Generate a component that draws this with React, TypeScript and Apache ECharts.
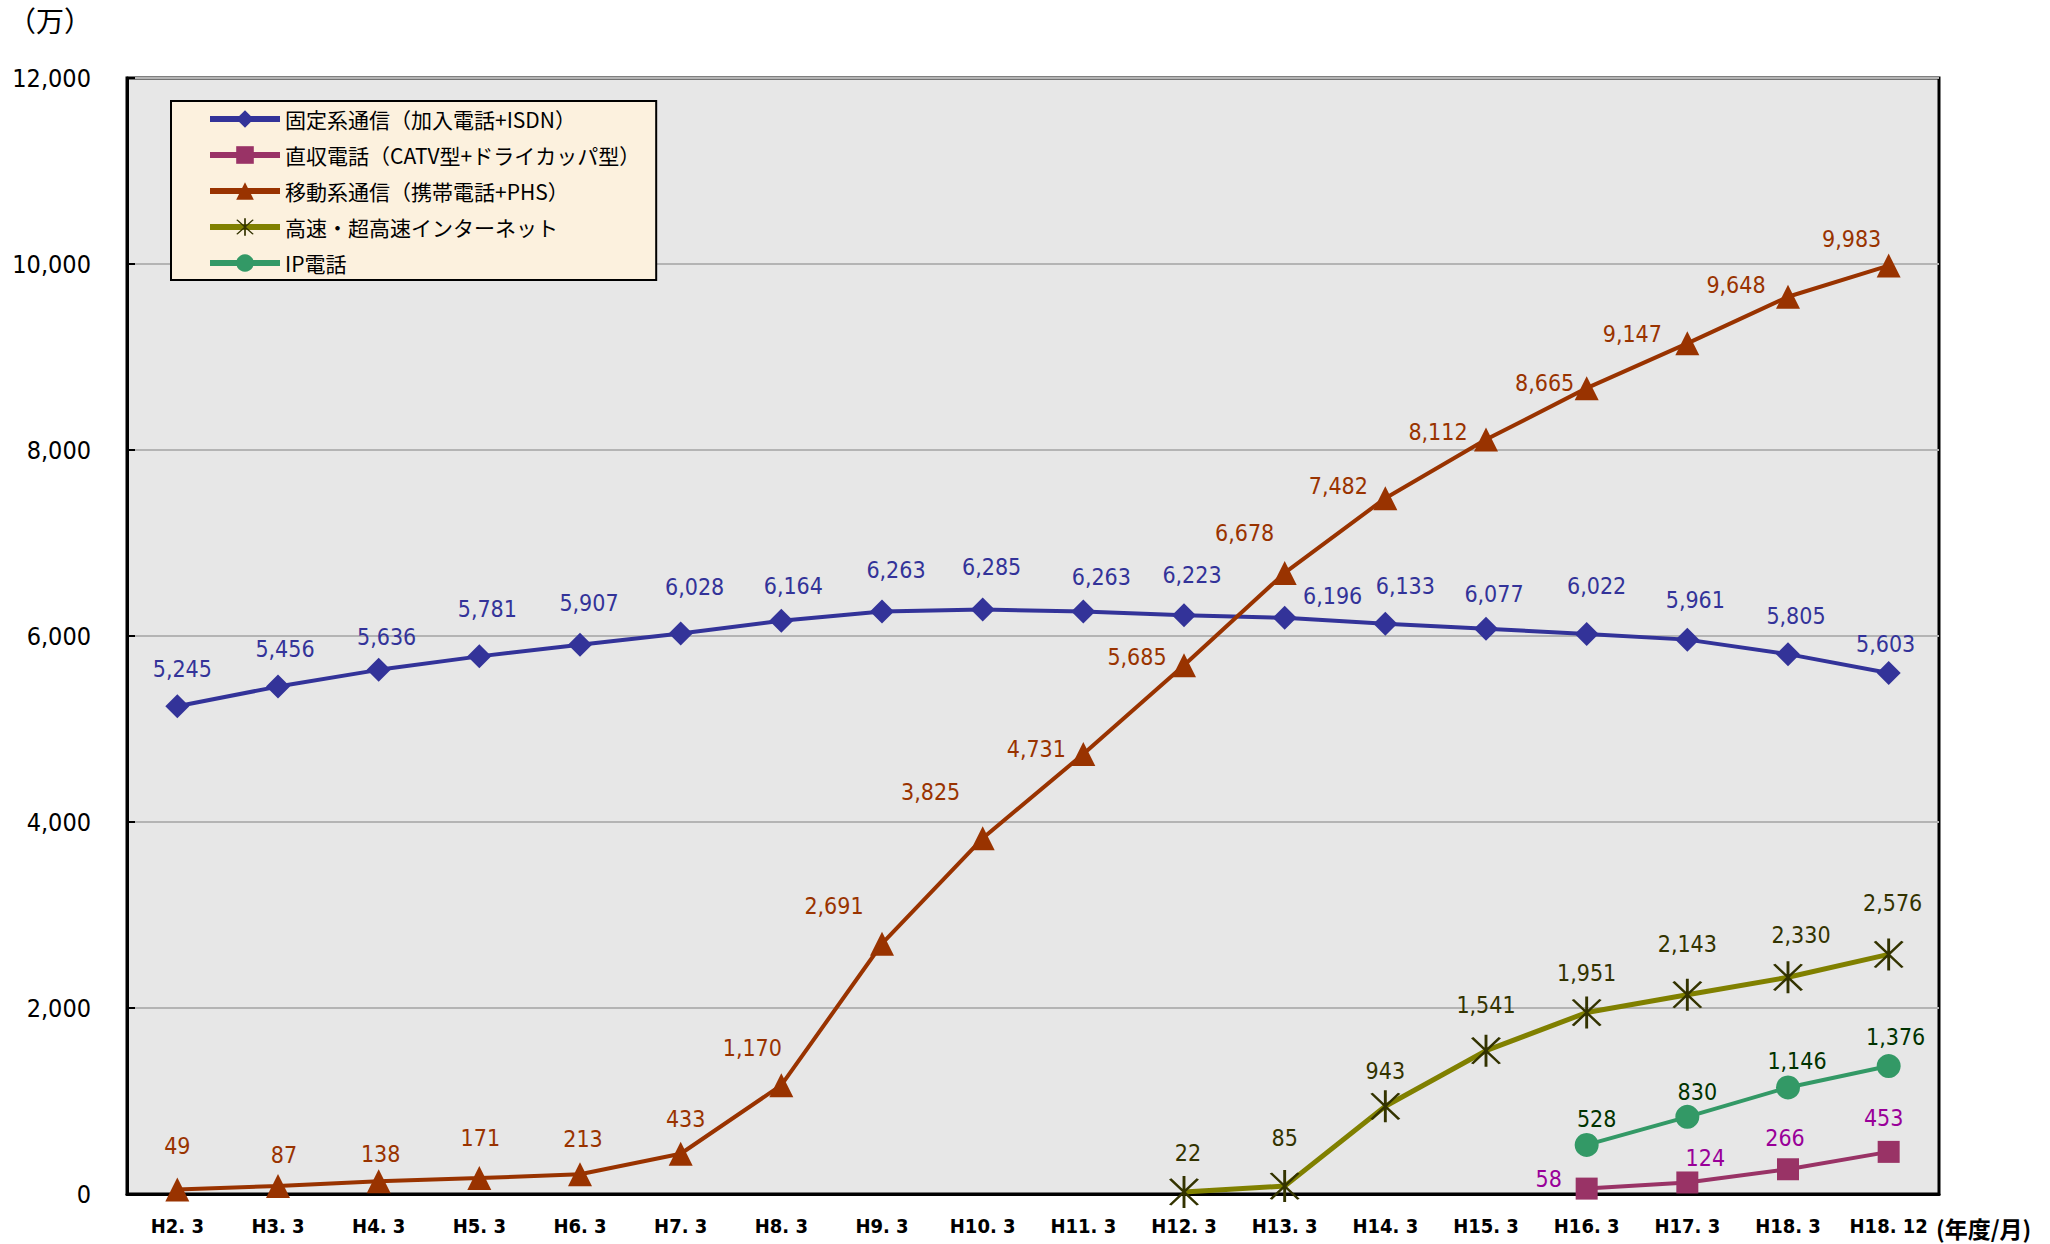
import React, { useEffect, useRef } from "react";
import * as echarts from "echarts";

const categories = ["H2. 3", "H3. 3", "H4. 3", "H5. 3", "H6. 3", "H7. 3", "H8. 3", "H9. 3", "H10. 3", "H11. 3", "H12. 3", "H13. 3", "H14. 3", "H15. 3", "H16. 3", "H17. 3", "H18. 3", "H18. 12"];

const seriesNames = ["固定系通信（加入電話+ISDN）", "直収電話（CATV型+ドライカッパ型）", "移動系通信（携帯電話+PHS）", "高速・超高速インターネット", "IP電話"];

const fixedLine = [5245, 5456, 5636, 5781, 5907, 6028, 6164, 6263, 6285, 6263, 6223, 6196, 6133, 6077, 6022, 5961, 5805, 5603];
const directLine = [null, null, null, null, null, null, null, null, null, null, null, null, null, null, 58, 124, 266, 453];
const mobile = [49, 87, 138, 171, 213, 433, 1170, 2691, 3825, 4731, 5685, 6678, 7482, 8112, 8665, 9147, 9648, 9983];
const broadband = [null, null, null, null, null, null, null, null, null, null, 22, 85, 943, 1541, 1951, 2143, 2330, 2576];
const ipPhone = [null, null, null, null, null, null, null, null, null, null, null, null, null, null, 528, 830, 1146, 1376];

const yTicks = { min: 0, max: 12000, interval: 2000 };

// label offsets (px) relative to the point
const fixedOff = [[5, -37], [7, -38], [8, -33], [8, -47], [9, -42], [14, -46], [12, -35], [14, -42], [9, -42], [18, -35], [8, -40], [48, -22], [20, -38], [8, -35], [10, -48], [8, -40], [8, -38], [-3, -29]];
const directOff = [[0, 0], [0, 0], [0, 0], [0, 0], [0, 0], [0, 0], [0, 0], [0, 0], [0, 0], [0, 0], [0, 0], [0, 0], [0, 0], [0, 0], [-38, -10], [18, -24], [-3, -31], [-5, -34]];
const mobileOff = [[0, -43], [6, -31], [2, -27], [1, -40], [3, -35], [5, -35], [-29, -37], [-48, -38], [-52, -46], [-47, -5], [-47, -8], [-40, -40], [-47, -12], [-48, -8], [-42, -5], [-55, -9], [-52, -12], [-37, -27]];
const broadOff = [[0, 0], [0, 0], [0, 0], [0, 0], [0, 0], [0, 0], [0, 0], [0, 0], [0, 0], [0, 0], [4, -39], [0, -48], [0, -35], [0, -46], [0, -40], [0, -51], [13, -42], [4, -51]];
const ipOff = [[0, 0], [0, 0], [0, 0], [0, 0], [0, 0], [0, 0], [0, 0], [0, 0], [0, 0], [0, 0], [0, 0], [0, 0], [0, 0], [0, 0], [10, -26], [10, -25], [9, -26], [7, -29]];

const NUM_FONT = "'DejaVu Sans Condensed', Roboto, 'Noto Sans CJK JP', sans-serif";
const JP_FONT = "'Noto Sans CJK JP', sans-serif";

const asterisk =
  "path://M9.4,0 L10.6,0 L10.6,20 L9.4,20 Z " +
  "M4.75,1.466 L16.23,17.846 L15.25,18.534 L3.77,2.154 Z " +
  "M16.23,2.154 L4.75,18.534 L3.77,17.846 L15.25,1.466 Z";

function buildData(values: (number | null)[], offs: number[][], color: string) {
  return values.map((v, i) =>
    v === null
      ? null
      : {
          value: v,
          label: {
            show: true,
            position: "inside",
            offset: offs[i],
            color,
          },
        }
  );
}

export default function App() {
  const ref = useRef<HTMLDivElement>(null);
  useEffect(() => {
    if (!ref.current) return;
    const chart = echarts.init(ref.current, null, { renderer: "svg" });
    const labelBase = {
      show: true,
      fontFamily: NUM_FONT,
      fontSize: 23,
      formatter: (p: any) => Number(p.value).toLocaleString("en-US"),
    };
    chart.setOption({
      animation: false,
      backgroundColor: "#ffffff",
      grid: {
        left: 127,
        right: 111,
        top: 78,
        bottom: 50,
        show: true,
        backgroundColor: "#e7e7e7",
        borderColor: "#000000",
        borderWidth: 3,
      },
      legend: {
        orient: "vertical",
        left: 171,
        top: 101,
        padding: [7, 16, 6, 36],
        itemWidth: 70,
        itemHeight: 22,
        itemGap: 14,
        backgroundColor: "#fcf1de",
        borderColor: "#000000",
        borderWidth: 2,
        lineStyle: { width: 6 },
        textStyle: { fontFamily: JP_FONT, fontSize: 21, color: "#000", lineHeight: 22 },
        data: seriesNames,
      },
      xAxis: {
        type: "category",
        data: categories,
        boundaryGap: true,
        axisLine: { lineStyle: { color: "#000", width: 3 } },
        axisTick: { inside: true, length: 8, lineStyle: { color: "#000", width: 2 } },
        axisLabel: { interval: 0, fontFamily: NUM_FONT, fontSize: 20, fontWeight: "bold", color: "#000", margin: 22 },
        splitLine: { show: false },
      },
      yAxis: {
        type: "value",
        min: yTicks.min,
        max: yTicks.max,
        interval: yTicks.interval,
        axisLine: { show: true, lineStyle: { color: "#000", width: 3 } },
        axisTick: { show: true, inside: true, length: 8, lineStyle: { color: "#000", width: 2 } },
        axisLabel: {
          fontFamily: NUM_FONT,
          fontSize: 25,
          color: "#000",
          margin: 36,
          formatter: (v: number) => v.toLocaleString("en-US"),
        },
        splitLine: { lineStyle: { color: "#b4b4b4", width: 2 } },
      },
      graphic: [
        { type: "text", left: 8, top: 6, style: { text: "（万）", font: `28px ${JP_FONT}`, fill: "#000" } },
        { type: "text", left: 1936, top: 1216, style: { text: "(年度/月)", font: `bold 23px ${JP_FONT}`, fill: "#000" } },
      ],
      series: [
        {
          name: seriesNames[0],
          type: "line",
          data: buildData(fixedLine, fixedOff, "#333399"),
          symbol: "diamond",
          symbolSize: 24,
          itemStyle: { color: "#333399" },
          lineStyle: { color: "#333399", width: 4 },
          label: labelBase,
          z: 3,
        },
        {
          name: seriesNames[1],
          type: "line",
          data: buildData(directLine, directOff, "#990099"),
          symbol: "rect",
          symbolSize: 22,
          itemStyle: { color: "#993366" },
          lineStyle: { color: "#993366", width: 4 },
          label: labelBase,
          z: 4,
        },
        {
          name: seriesNames[2],
          type: "line",
          data: buildData(mobile, mobileOff, "#993300"),
          symbol: "triangle",
          symbolSize: 24,
          itemStyle: { color: "#993300" },
          lineStyle: { color: "#993300", width: 4 },
          label: labelBase,
          z: 4,
        },
        {
          name: seriesNames[3],
          type: "line",
          data: buildData(broadband, broadOff, "#333300"),
          symbol: asterisk,
          symbolSize: [30, 32],
          itemStyle: { color: "#333300" },
          lineStyle: { color: "#808000", width: 5 },
          label: labelBase,
          z: 4,
        },
        {
          name: seriesNames[4],
          type: "line",
          data: buildData(ipPhone, ipOff, "#003300"),
          symbol: "circle",
          symbolSize: 24,
          itemStyle: { color: "#339966" },
          lineStyle: { color: "#339966", width: 4 },
          label: labelBase,
          z: 4,
        },
      ],
    });
    return () => chart.dispose();
  }, []);
  return (
    <div
      ref={ref}
      style={{ position: "fixed", left: 0, top: 0, width: 2050, height: 1244, background: "#fff" }}
    />
  );
}
